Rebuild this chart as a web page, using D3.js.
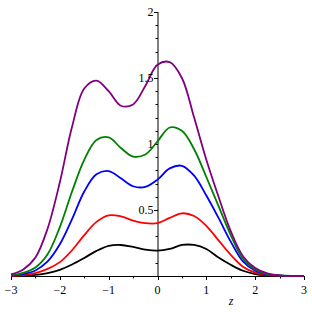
<!DOCTYPE html>
<html>
<head>
<meta charset="utf-8">
<script src="https://cdn.jsdelivr.net/npm/d3@7"></script>
<style>
body{margin:0;background:#fff}
svg text{font-family:'Times New Roman','Liberation Serif','DejaVu Serif',Times,serif;font-size:12px}
</style>
</head>
<body>
<svg id="chart" width="312" height="312"></svg>
<script>
// z values (every 0.25) and the five curves
var zs = [-3,-2.75,-2.5,-2.25,-2,-1.75,-1.5,-1.25,-1,-0.75,-0.5,-0.25,0,0.25,0.5,0.75,1,1.25,1.5,1.75,2,2.25,2.5,2.75,3]
var black  = [0,0.003,0.009,0.022,0.047,0.087,0.137,0.19,0.228,0.235,0.22,0.2,0.192,0.205,0.235,0.235,0.205,0.14,0.085,0.04,0.015,0.005,0.001,0,0]
var red    = [0.002,0.007,0.022,0.054,0.105,0.195,0.31,0.41,0.46,0.452,0.42,0.4,0.4,0.44,0.475,0.455,0.38,0.27,0.16,0.07,0.025,0.008,0.002,0,0]
var blue   = [0.004,0.015,0.042,0.11,0.24,0.43,0.64,0.77,0.795,0.74,0.68,0.675,0.73,0.815,0.835,0.76,0.61,0.44,0.26,0.11,0.04,0.012,0.003,0,0]
var green  = [0.006,0.024,0.065,0.165,0.37,0.64,0.88,1.03,1.05,0.97,0.905,0.92,1.02,1.125,1.1,0.96,0.75,0.53,0.31,0.13,0.05,0.015,0.004,0,0]
var purple = [0.012,0.05,0.14,0.36,0.71,1.13,1.42,1.48,1.4,1.29,1.3,1.44,1.6,1.62,1.5,1.2,0.88,0.6,0.34,0.15,0.06,0.02,0.005,0,0]
var series = [[black,'#000000'],[red,'#ff0000'],[blue,'#0000ff'],[green,'#008000'],[purple,'#800080']]

var xTicks = [-3,-2,-1,0,1,2,3]
var xMinor = [-2.5,-1.5,-0.5,0.5,1.5,2.5]
var yTicks = [0.5,1,1.5,2]
var yLabels = ['0.5','1','1.5','2']

var svg = d3.select('#chart')
var x = d3.scaleLinear().domain([-3,3]).range([11,304])
var y = d3.scaleLinear().domain([0,2]).range([276,12])

var axes = svg.append('g').attr('id','axes').attr('stroke','#000').attr('stroke-width',1)
axes.append('line').attr('x1',x(-3)).attr('x2',x(3)).attr('y1',y(0)+0.5).attr('y2',y(0)+0.5)
axes.append('line').attr('x1',x(0)+0.5).attr('x2',x(0)+0.5).attr('y1',y(0)).attr('y2',y(2))

xTicks.forEach(function(t){
	axes.append('line').attr('x1',Math.round(x(t))+0.5).attr('x2',Math.round(x(t))+0.5)
		.attr('y1',y(0)).attr('y2',y(0)+4)
})
xMinor.forEach(function(t){
	axes.append('line').attr('x1',Math.round(x(t))+0.5).attr('x2',Math.round(x(t))+0.5)
		.attr('y1',y(0)).attr('y2',y(0)+2.5)
})
d3.range(1,21).forEach(function(i){
	var v = i/10
	var major = (i%5==0)
	axes.append('line').attr('x1',x(0)+0.5).attr('x2',x(0)+0.5-(major?4:2.5))
		.attr('y1',Math.round(y(v))+0.5).attr('y2',Math.round(y(v))+0.5)
})

var curves = svg.append('g').attr('id','curves')
var line = d3.line().x(function(d,i){return x(zs[i])}).y(function(d){return y(d)})
	.curve(d3.curveCatmullRom.alpha(0.5))
series.forEach(function(s){
	curves.append('path').datum(s[0]).attr('d',line)
		.attr('fill','none').attr('stroke',s[1]).attr('stroke-width',1.8)
})

var labels = svg.append('g').attr('id','labels').attr('fill','#000')
xTicks.forEach(function(t){
	labels.append('text').attr('x',x(t)).attr('y',294).attr('text-anchor','middle')
		.text(t<0 ? '\u2212'+Math.abs(t) : String(t))
})
yTicks.forEach(function(t,i){
	labels.append('text').attr('x',x(0)-4).attr('y',y(t)+4).attr('text-anchor','end').text(yLabels[i])
})
labels.append('text').attr('x',231).attr('y',305).attr('text-anchor','middle')
	.attr('font-style','italic').text('z')
</script>
</body>
</html>
